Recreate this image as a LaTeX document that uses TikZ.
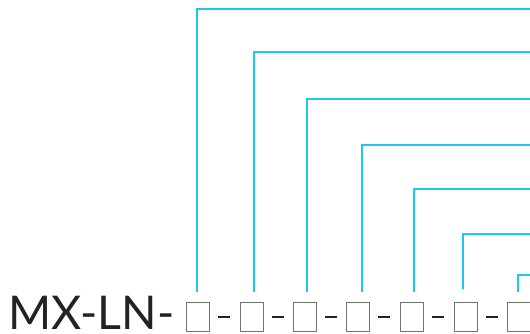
\documentclass[tikz,border=0pt]{standalone}
\usepackage{fontspec}
\setmainfont{Lato}
\definecolor{cyanline}{HTML}{1CC8F0}
\definecolor{txt}{HTML}{222222}
\definecolor{boxgray}{HTML}{707070}
\tikzset{
  slot/.style={draw=boxgray, line width=0.9pt, minimum width=23pt, minimum height=29pt, inner sep=0pt, anchor=north west},
  sep/.style={fill=txt, draw=none, minimum width=12pt, minimum height=2.6pt, inner sep=0pt},
  lead/.style={draw=cyanline, line width=1.3pt}
}
\begin{document}
\begin{tikzpicture}[x=1pt,y=-1pt]
\useasboundingbox (0,0) rectangle (530,333);
\node[anchor=base west, inner sep=0pt, text depth=0pt, text=txt, font=\fontsize{46.5}{46.5}\selectfont] (code) at (8,329.5) {MX-LN-};
\foreach \i/\x in {1/185.5,2/239.5,3/292.5,4/345.5,5/399.5,6/453.5,7/506.5}{
  \node[slot] (b\i) at (\x,301.5) {};
}
\foreach \i/\x in {1/224,2/277.5,3/330.5,4/384,5/438,6/491.5}{
  \node[sep] (d\i) at (\x,317) {};
}
\foreach \i/\x/\y/\b in {1/197/9/292,2/254/52/292,3/307/99/292,4/362/145/292,5/414/189/292,6/463/234/289,7/518/275/292}{
  \coordinate (s\i) at (\x,\b);
  \coordinate (e\i) at (531,\y);
  \draw[lead] (s\i) |- (e\i);
}
\end{tikzpicture}
\end{document}
